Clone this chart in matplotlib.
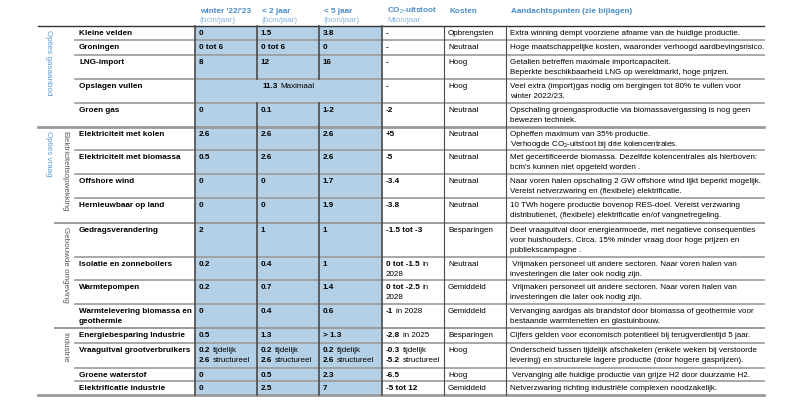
import matplotlib.pyplot as plt
import matplotlib as mpl

mpl.rcParams['font.family'] = ['Liberation Sans', 'DejaVu Sans']
mpl.rcParams['mathtext.fontset'] = 'custom'
mpl.rcParams['mathtext.rm'] = 'Liberation Sans'
mpl.rcParams['mathtext.bf'] = 'Liberation Sans:bold'

# table content
headers = ["winter '22/'23", "< 2 jaar", "< 5 jaar", "CO$_2$-uitstoot", "Kosten",
           "Aandachtspunten (zie bijlagen)"]
units = ["(bcm/jaar)", "(bcm/jaar)", "(bcm/jaar)", "Mton/jaar", "", ""]

labels = ["Kleine velden", "Groningen", "LNG-import", "Opslagen vullen", "Groen gas",
          "Elektriciteit met kolen", "Elektriciteit met biomassa", "Offshore wind",
          "Hernieuwbaar op land", "Gedragsverandering", "Isolatie en zonneboilers",
          "Warmtepompen", "Warmtelevering biomassa en\ngeothermie",
          "Energiebesparing Industrie", "Vraaguitval grootverbruikers",
          "Groene waterstof", "Elektrificatie industrie"]

# "bold|regular" per line
winter = ["0", "0 tot 6", "8", None, "0", "2.6", "0.5", "0", "0", "2", "0.2", "0.2",
          "0", "0.5", "0.2|tijdelijk\n2.6|structureel", "0", "0"]
lt2 = ["1.5", "0 tot 6", "12", None, "0.1", "2.6", "2.6", "0", "0", "1", "0.4", "0.7",
       "0.4", "1.3", "0.2|tijdelijk\n2.6|structureel", "0.5", "2.5"]
lt5 = ["3.8", "0", "16", None, "1-2", "2.6", "2.6", "1.7", "1.9", "1", "1", "1.4",
       "0.6", "> 1.3", "0.2|tijdelijk\n2.6|structureel", "2.3", "7"]
storage = "11.3|Maximaal"
co2 = ["-", "-", "-", "-", "-2", "+5", "-5", "-3.4", "-3.8", "-1.5 tot -3",
       "0 tot -1.5|in\n|2028", "0 tot -2.5|in\n|2028", "-1|in 2028", "-2.8|in 2025",
       "-0.3|tijdelijk\n-5.2|structureel", "-6.5", "-5 tot 12"]
kosten = ["Opbrengsten", "Neutraal", "Hoog", "Hoog", "Neutraal", "Neutraal", "Neutraal",
          "Neutraal", "Neutraal", "Besparingen", "Neutraal", "Gemiddeld", "Gemiddeld",
          "Besparingen", "Hoog", "Hoog", "Gemiddeld"]
notes = [
    "Extra winning dempt voorziene afname van de huidige productie.",
    "Hoge maatschappelijke kosten, waaronder verhoogd aardbevingsrisico.",
    "Getallen betreffen maximale importcapaciteit.\nBeperkte beschikbaarheid LNG op wereldmarkt, hoge prijzen.",
    "Veel extra (import)gas nodig om bergingen tot 80% te vullen voor\nwinter 2022/23.",
    "Opschaling groengasproductie via biomassavergassing is nog geen\nbewezen techniek.",
    "Opheffen maximum van 35% productie.\nVerhoogde CO$_2$-uitstoot bij drie kolencentrales.",
    "Met gecertificeerde biomassa. Dezelfde kolencentrales als hierboven:\nbcm's kunnen niet opgeteld worden .",
    "Naar voren halen opschaling 2 GW offshore wind lijkt beperkt mogelijk.\nVereist netverzwaring en (flexibele) elektrificatie.",
    "10 TWh hogere productie bovenop RES-doel. Vereist verzwaring\ndistributienet, (flexibele) elektrificatie en/of vangnetregeling.",
    "Deel vraaguitval door energiearmoede, met negatieve consequenties\nvoor huishouders. Circa. 15% minder vraag door hoge prijzen en\npubliekscampagne .",
    " Vrijmaken personeel uit andere sectoren. Naar voren halen van\ninvesteringen die later ook nodig zijn.",
    " Vrijmaken personeel uit andere sectoren. Naar voren halen van\ninvesteringen die later ook nodig zijn.",
    "Vervanging aardgas als brandstof door biomassa of geothermie voor\nbestaande warmtenetten en glastuinbouw.",
    "Cijfers gelden voor economisch potentieel bij terugverdientijd 5 jaar.",
    "Onderscheid tussen tijdelijk afschakelen (enkele weken bij verstoorde\nlevering) en structurele lagere productie (door hogere gasprijzen).",
    " Vervanging alle huidige productie van grijze H2 door duurzame H2.",
    "Netverzwaring richting industriële complexen noodzakelijk.",
]

groups = [("Opties gasaanbod", 0, 5), ("Opties vraag", 5, 17)]
subgroups = [("Elektriciteitsopwekking", 5, 9), ("Gebouwde omgeving", 9, 13),
             ("Industrie", 13, 17)]

# layout (pixels)
X_LEFT, X_SUB = 38, 55
cols = [75, 195, 257, 319, 382, 444, 506, 764]
rows = [26, 40, 55, 79, 103, 127, 150, 174, 198, 223, 257, 280, 304, 328, 343, 368, 381, 395]
BLUE_FILL = '#b4d0e6'
HEAD_BLUE = '#4a8cc8'
UNIT_BLUE = '#86b4dd'
LINE = '#9a9a9a'
DARK = '#4a4a4a'
FS = 5.75
FSB = 5.9
LH = 10

fig = plt.figure(figsize=(8, 4), dpi=100)
ax = fig.add_axes([0, 0, 1, 1])
ax.set_xlim(0, 800)
ax.set_ylim(400, 0)
ax.axis('off')
renderer = fig.canvas.get_renderer()


def put(x, y, s, bold, color='black'):
    t = ax.text(x, y, s, fontsize=FSB if bold else FS, fontweight='bold' if bold else 'normal',
                color=color, va='baseline', ha='left')
    return t.get_window_extent(renderer).width


def cell(x, top, s, bold=True):
    for i, line in enumerate(s.split('\n')):
        y = top + 9 + i * LH
        if '|' in line:
            b, r = line.split('|')
            xx = x
            if b:
                xx += put(xx, y, b, True) + 2.5
            put(xx, y, r, False)
        else:
            put(x, y, line, bold)


# blue block
ax.add_patch(plt.Rectangle((cols[1], rows[0]), cols[4] - cols[1], rows[-1] - rows[0],
                           facecolor=BLUE_FILL, edgecolor='none', zorder=0))

# horizontal lines
ax.plot([X_LEFT, cols[-1]], [rows[0], rows[0]], color='#333333', lw=1.0)
for i, y in enumerate(rows[1:-1], start=1):
    if i == 5:
        ax.plot([X_LEFT, cols[-1]], [y, y], color=LINE, lw=2.0)
    elif i in (9, 13):
        ax.plot([X_SUB, cols[-1]], [y, y], color=LINE, lw=1.4)
    else:
        ax.plot([cols[0], cols[-1]], [y, y], color=LINE, lw=1.2)
ax.plot([X_LEFT, cols[-1]], [rows[-1], rows[-1]], color=LINE, lw=2.0)

# vertical lines
for j, x in enumerate(cols[1:-1], start=1):
    lw = 1.2 if j <= 4 else 0.8
    if j in (2, 3):
        ax.plot([x, x], [rows[0], rows[3]], color=DARK, lw=lw)
        ax.plot([x, x], [rows[4], rows[-1]], color=DARK, lw=lw)
    else:
        ax.plot([x, x], [rows[0], rows[-1]], color=DARK, lw=lw)

# headers
for j, (h, u) in enumerate(zip(headers, units)):
    x = cols[j + 1] + 5
    ax.text(x, 13, h, fontsize=FSB, fontweight='bold', color=HEAD_BLUE, va='baseline')
    if u:
        ax.text(x, 21.5, u, fontsize=FS, color=UNIT_BLUE, va='baseline')

# body
for i in range(len(labels)):
    top = rows[i]
    cell(cols[0] + 4, top, labels[i])
    if winter[i] is None:
        b, r = storage.split('|')
        cx = (cols[1] + cols[4]) / 2
        y = top + 9
        tb = ax.text(0, 0, b, fontsize=FSB, fontweight='bold')
        wb = tb.get_window_extent(renderer).width
        tb.remove()
        tr = ax.text(0, 0, r, fontsize=FS)
        wr = tr.get_window_extent(renderer).width
        tr.remove()
        x0 = cx - (wb + 2.5 + wr) / 2
        put(x0, y, b, True)
        put(x0 + wb + 2.5, y, r, False)
    else:
        cell(cols[1] + 4, top, winter[i])
        cell(cols[2] + 4, top, lt2[i])
        cell(cols[3] + 4, top, lt5[i])
    cell(cols[4] + 4, top, co2[i])
    cell(cols[5] + 4, top, kosten[i], bold=False)
    cell(cols[6] + 4, top, notes[i], bold=False)

# rotated group labels
for name, a, b in groups:
    ax.text(48, rows[a] + 4, name, rotation=270, fontsize=FS, color='#5b9bd5',
            ha='center', va='top')
for name, a, b in subgroups:
    ax.text(65, rows[a] + 4, name, rotation=270, fontsize=FS, color='#555555',
            ha='center', va='top')

fig.savefig('out.png', dpi=100)
